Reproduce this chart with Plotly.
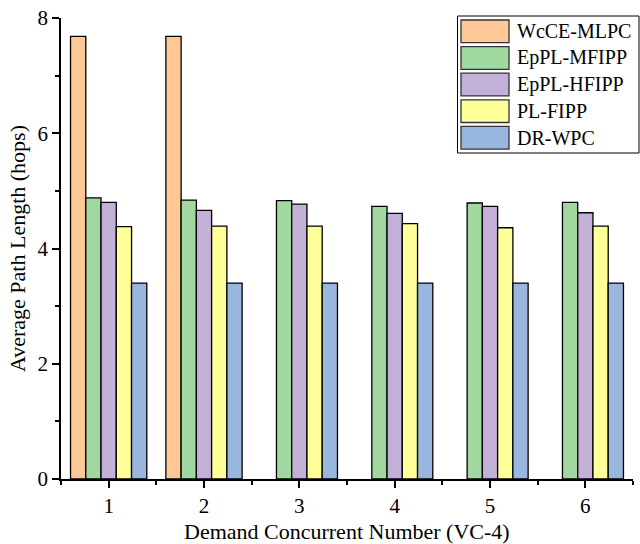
import plotly.graph_objects as go

categories = [1, 2, 3, 4, 5, 6]
series_names = ["WcCE-MLPC", "EpPL-MFIPP", "EpPL-HFIPP", "PL-FIPP", "DR-WPC"]
wcce_mlpc = [7.68, 7.68, None, None, None, None]
eppl_mfipp = [4.88, 4.84, 4.83, 4.73, 4.79, 4.80]
eppl_hfipp = [4.80, 4.66, 4.77, 4.61, 4.73, 4.62]
pl_fipp = [4.38, 4.39, 4.39, 4.43, 4.36, 4.39]
dr_wpc = [3.40, 3.40, 3.40, 3.40, 3.40, 3.40]
y_ticks = [0, 2, 4, 6, 8]
x_title = "Demand Concurrent Number (VC-4)"
y_title = "Average Path Length (hops)"

series_values = [wcce_mlpc, eppl_mfipp, eppl_hfipp, pl_fipp, dr_wpc]
colors = ["#FDC896", "#A0D8A0", "#C2B0D6", "#FFFF99", "#99B6DE"]

FONT = "Liberation Serif, Times New Roman, serif"

fig = go.Figure()
for name, vals, col in zip(series_names, series_values, colors):
    fig.add_trace(go.Bar(
        x=categories, y=vals, name=name,
        marker=dict(color=col, line=dict(color="black", width=1.3)),
        showlegend=False,
    ))

# custom legend (paper coords)
L, R, T, B = 61, 633, 18, 479
W, H = R - L, B - T
def px(x):
    return (x - L) / W
def py(y):
    return (B - y) / H

shapes = [dict(type="rect", xref="paper", yref="paper",
               x0=px(457.5), x1=px(639), y0=py(153), y1=py(16),
               line=dict(color="black", width=1), fillcolor="white", layer="above")]
annotations = []
for i, (name, col) in enumerate(zip(series_names, colors)):
    top = 20 + 26.6 * i
    bot = top + 22.7
    shapes.append(dict(type="rect", xref="paper", yref="paper",
                       x0=px(461), x1=px(509), y0=py(bot), y1=py(top),
                       line=dict(color="#333333", width=1.3), fillcolor=col, layer="above"))
    annotations.append(dict(xref="paper", yref="paper", x=px(515), y=py((top + bot) / 2),
                            text=name, showarrow=False, xanchor="left", yanchor="middle",
                            font=dict(family=FONT, size=20, color="black")))

annotations.append(dict(xref="paper", yref="paper", x=0.5, y=py(531),
                        text=x_title, showarrow=False, xanchor="center", yanchor="middle",
                        font=dict(family=FONT, size=22, color="black")))

fig.update_layout(
    width=640, height=544,
    margin=dict(l=L, r=640 - R, t=T, b=544 - B),
    paper_bgcolor="white", plot_bgcolor="white",
    barmode="group", bargap=0.2, bargroupgap=0,
    font=dict(family=FONT, size=20, color="black"),
    shapes=shapes, annotations=annotations,
    showlegend=False,
)
fig.update_xaxes(
    range=[0.5, 6.5], tickvals=categories, ticktext=[str(c) for c in categories],
    showline=True, linecolor="black", linewidth=1.5, showgrid=False, zeroline=False,
    ticks="outside", ticklen=7, tickwidth=1.5, tickcolor="black",
    minor=dict(tick0=0.5, dtick=1, ticks="outside", ticklen=4, tickwidth=1.5, tickcolor="black"),
    tickfont=dict(family=FONT, size=21),
    automargin=False,
)
fig.update_yaxes(
    range=[0, 8], tickvals=y_ticks,
    showline=True, linecolor="black", linewidth=1.5, showgrid=False, zeroline=False,
    ticks="outside", ticklen=7, tickwidth=1.5, tickcolor="black",
    minor=dict(tick0=1, dtick=2, ticks="outside", ticklen=4, tickwidth=1.5, tickcolor="black"),
    tickfont=dict(family=FONT, size=21),
    title=dict(text=y_title, font=dict(family=FONT, size=22), standoff=6),
    automargin=False,
)

fig.write_html("out.html", config={"displayModeBar": False},
               post_script="document.body.style.margin='0';document.body.style.overflow='hidden';")
